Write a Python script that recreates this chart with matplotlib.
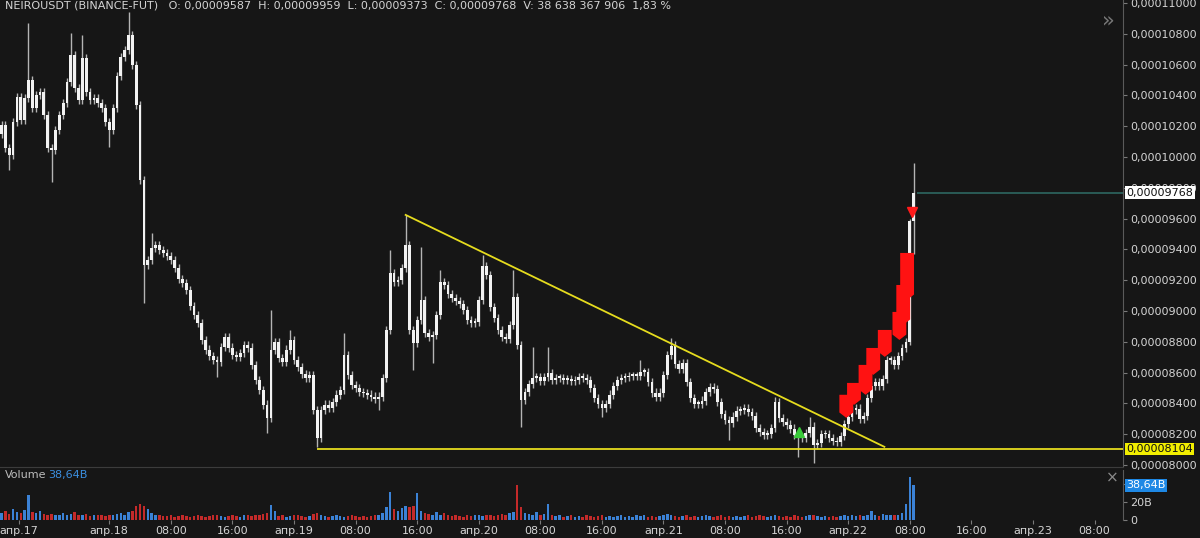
import matplotlib
matplotlib.use('Agg')
import matplotlib.pyplot as plt
from matplotlib.patches import Polygon

BG = '#161616'
TXT = '#d4d4d4'

# NEIROUSDT 30-min candles, prices in units of 1e-8, first candle apr.17 10:00
closes = [
    10208, 10059, 10013, 10227, 10389, 10240, 10383, 10500, 10318, 10403,
    10422, 10273, 10059, 10046, 10175, 10273, 10351, 10487, 10662, 10448,
    10370, 10643, 10422, 10370, 10383, 10351, 10318, 10227, 10175, 10318,
    10526, 10649, 10695, 10792, 10597, 10338, 9851, 9299, 9332, 9409,
    9429, 9397, 9377, 9358, 9332, 9280, 9208, 9182, 9137, 9033,
    8975, 8923, 8812, 8748, 8709, 8683, 8670, 8767, 8832, 8761,
    8715, 8702, 8728, 8780, 8761, 8650, 8553, 8488, 8391, 8306,
    8748, 8799, 8696, 8670, 8748, 8812, 8683, 8637, 8592, 8566,
    8585, 8358, 8176, 8358, 8391, 8371, 8410, 8456, 8488, 8715,
    8585, 8520, 8501, 8475, 8468, 8456, 8443, 8430, 8443, 8566,
    8877, 9247, 9189, 9202, 9280, 9429, 8877, 8793, 8942, 9072,
    8858, 8832, 8845, 8975, 9189, 9169, 9111, 9085, 9065, 9046,
    9007, 8942, 8923, 8929, 9072, 9293, 9234, 9027, 8955, 8877,
    8832, 8819, 8910, 9092, 8780, 8423, 8475, 8527, 8566, 8572,
    8546, 8572, 8598, 8553, 8566, 8566, 8553, 8559, 8546, 8553,
    8572, 8566, 8553, 8501, 8436, 8397, 8371, 8397, 8456, 8514,
    8553, 8566, 8572, 8579, 8579, 8579, 8605, 8605, 8540, 8469,
    8443, 8469, 8585, 8715, 8774, 8657, 8624, 8663, 8540, 8436,
    8397, 8397, 8417, 8475, 8507, 8494, 8410, 8332, 8293, 8274,
    8313, 8352, 8358, 8365, 8345, 8319, 8241, 8215, 8196, 8202,
    8241, 8410, 8306, 8280, 8261, 8235, 8196, 8183, 8176, 8209,
    8248, 8131, 8144, 8202, 8202, 8176, 8157, 8150, 8189, 8267,
    8313, 8358, 8365, 8300, 8319, 8436, 8514, 8540, 8514, 8559,
    8683, 8683, 8650, 8708, 8760, 8799, 9587, 9768,
]
first_open = 10150

# wicks that stick out clearly (index -> price)
spike_highs = {7: 10870, 18: 10805, 21: 10792, 33: 10941, 39: 9507, 70: 9007,
               75: 8877, 89: 8858, 101: 9397, 105: 9624, 109: 9416, 114: 9267,
               125: 9364, 133: 9267, 138: 8767, 142: 8767, 166: 8683, 174: 8825,
               201: 8443, 210: 8313, 236: 9600, 237: 9959}
spike_lows = {2: 9916, 13: 9838, 28: 10065, 37: 9052, 56: 8572, 69: 8209,
              82: 8118, 98: 8358, 107: 8618, 112: 8663, 135: 8248, 156: 8313,
              189: 8163, 207: 8053, 211: 8014, 236: 8780, 237: 9373}
wick = 28

# volume, billions
volumes = [
    8, 10, 7, 12, 9, 8, 11, 28, 9, 8,
    10, 7, 6, 7, 5, 6, 8, 5, 7, 9,
    6, 5, 7, 4, 5, 6, 5, 4, 6, 5,
    7, 8, 6, 9, 10, 16, 18, 15, 12, 8,
    6, 5, 4, 4, 5, 3, 4, 5, 4, 3,
    4, 5, 4, 3, 4, 5, 6, 4, 3, 4,
    5, 4, 3, 5, 6, 4, 5, 6, 7, 8,
    17, 10, 4, 5, 3, 4, 6, 5, 4, 3,
    4, 7, 8, 5, 4, 3, 4, 5, 4, 3,
    4, 5, 4, 3, 4, 3, 4, 5, 6, 8,
    14, 31, 12, 10, 13, 15, 14, 16, 30, 10,
    8, 7, 6, 9, 5, 8, 6, 4, 5, 4,
    3, 5, 4, 6, 5, 4, 6, 5, 4, 6,
    7, 5, 8, 9, 39, 14, 8, 7, 6, 9,
    5, 7, 18, 6, 4, 5, 3, 4, 5, 3,
    4, 3, 5, 4, 3, 4, 5, 3, 4, 3,
    4, 5, 3, 4, 3, 5, 4, 6, 3, 4,
    3, 4, 5, 7, 6, 4, 3, 4, 5, 3,
    4, 3, 4, 5, 4, 3, 4, 5, 3, 4,
    3, 4, 3, 4, 5, 3, 4, 5, 4, 3,
    4, 6, 4, 3, 4, 3, 5, 4, 3, 4,
    5, 6, 4, 3, 4, 3, 4, 3, 4, 5,
    4, 5, 4, 6, 4, 5, 10, 6, 4, 7,
    5, 6, 5, 6, 8, 18, 48, 38.64,
]

tick_pos = [4.5, 28, 44, 60, 76, 92, 108, 124, 140, 156, 172, 188, 204, 220, 236, 252, 268, 284]
tick_lbl = ['апр.17', 'апр.18', '08:00', '16:00', 'апр.19', '08:00', '16:00', 'апр.20',
            '08:00', '16:00', 'апр.21', '08:00', '16:00', 'апр.22', '08:00', '16:00',
            'апр.23', '08:00']

trend_start = (105, 9624)
trend_end = (229.4, 8118)
support_level = 8104
support_from = 82
last_price = 9768

# red signal blocks: (candle index, top, bottom)
red_marks = [(219.5, 8456, 8306), (221.5, 8533, 8390), (224.5, 8650, 8456),
             (226.5, 8760, 8585), (229.5, 8877, 8702), (233.3, 8994, 8812),
             (234.3, 9169, 8910), (235.3, 9377, 9072)]
sell_arrow = (236.6, 9640)
buy_arrow = (207.3, 8215)

assert len(closes) == len(volumes)

n = len(closes)
idx = list(range(n))
opens = [first_open] + closes[:-1]
highs = [spike_highs.get(i, max(opens[i], closes[i]) + wick) for i in idx]
lows = [spike_lows.get(i, min(opens[i], closes[i]) - wick) for i in idx]

fig = plt.figure(figsize=(12, 5.38), dpi=100, facecolor=BG)
ax = fig.add_axes([0, 71 / 538, 1123 / 1200, 467 / 538], facecolor=BG)
axv = fig.add_axes([0, 18 / 538, 1123 / 1200, 50 / 538], facecolor=BG, sharex=ax)

XMAX = 291.4
ax.set_xlim(-0.4, XMAX)
ax.set_ylim(7987, 11019.5)

# candles
ax.vlines(idx, lows, highs, color='#b4b4b4', lw=1.0, zorder=2)
bottoms = [min(o, c) for o, c in zip(opens, closes)]
heights = [max(abs(c - o), 9) for o, c in zip(opens, closes)]
ax.bar(idx, heights, bottom=bottoms, width=0.72, color='#f2f2f2', edgecolor='none', zorder=3)

# drawings
ax.plot([trend_start[0], trend_end[0]], [trend_start[1], trend_end[1]], color='#e6dc1e', lw=1.3, zorder=4)
ax.hlines(support_level, support_from, XMAX, color='#e6dc1e', lw=1.3, zorder=4)
ax.hlines(last_price, n - 0.2, XMAX, color='#2f6e68', lw=1.1, zorder=4)

for c, top, bot in red_marks:
    w = 1.8
    tip = 35
    poly = Polygon([(c - w, top), (c + w, top), (c + w, bot + tip), (c, bot), (c - w, bot + tip)],
                   closed=True, facecolor='#ff1212', edgecolor='none', zorder=5)
    ax.add_patch(poly)
ax.plot([sell_arrow[0]], [sell_arrow[1]], marker='v', color='#ff1a1a', ms=7, zorder=6)
ax.plot([buy_arrow[0]], [buy_arrow[1]], marker='^', color='#3acb3a', ms=7, zorder=6)

# price axis
yt = list(range(8000, 11001, 200))
ax.yaxis.tick_right()
ax.set_yticks(yt)
ax.set_yticklabels([f'0,000{v:05d}' for v in yt])
ax.tick_params(axis='y', colors='#7a7a7a', labelcolor=TXT, labelsize=8, length=3, pad=2)
ax.tick_params(axis='x', bottom=False, labelbottom=False)
for s in ['left', 'top']:
    ax.spines[s].set_visible(False)
ax.spines['right'].set_color('#5a5a5a')
ax.spines['bottom'].set_color('#3c3c3c')

lbl_kw = dict(xycoords=('axes fraction', 'data'), ha='left', va='center', fontsize=8,
              annotation_clip=False, zorder=10)
ax.annotate(f'0,000{last_price:05d}', xy=(1.003, last_price), color='#101010',
            bbox=dict(boxstyle='square,pad=0.12', fc='white', ec='none'), **lbl_kw)
ax.annotate(f'0,000{support_level:05d}', xy=(1.003, support_level), color='#101010',
            bbox=dict(boxstyle='square,pad=0.12', fc='#f2ee00', ec='none'), **lbl_kw)

# volume
vcol = ['#3b82d6' if c >= o else '#c42a2a' for o, c in zip(opens, closes)]
axv.bar(idx, volumes, width=0.65, color=vcol, edgecolor='none')
axv.set_ylim(0, 55.5)
axv.yaxis.tick_right()
axv.set_yticks([0, 20, 40])
axv.set_yticklabels(['0', '20B', '40B'])
axv.tick_params(axis='y', colors='#7a7a7a', labelcolor=TXT, labelsize=8, length=3, pad=2)
axv.set_xticks(tick_pos)
axv.set_xticklabels(tick_lbl)
axv.tick_params(axis='x', colors='#7a7a7a', labelcolor=TXT, labelsize=8, length=3, pad=1)
for s in ['left', 'top', 'bottom']:
    axv.spines[s].set_visible(False)
axv.spines['right'].set_color('#5a5a5a')
axv.annotate('38,64B', xy=(1.003, volumes[-1]), color='white',
             xycoords=('axes fraction', 'data'), ha='left', va='center', fontsize=8,
             annotation_clip=False, zorder=10,
             bbox=dict(boxstyle='square,pad=0.12', fc='#1e88e5', ec='none'))

# header and pane texts
fig.text(5 / 1200, 1 - 5 / 538,
         'NEIROUSDT (BINANCE-FUT)   O: 0,00009587  H: 0,00009959  L: 0,00009373  '
         'C: 0,00009768  V: 38 638 367 906  1,83 %',
         color=TXT, fontsize=8, va='center', ha='left')
fig.text(5 / 1200, 1 - 475 / 538, 'Volume', color='#bdbdbd', fontsize=8, va='center')
fig.text(48 / 1200, 1 - 475 / 538, '38,64B', color='#3b8fe0', fontsize=8, va='center')
fig.text(1112 / 1200, 1 - 478 / 538, '×', color='#8a8a8a', fontsize=11, va='center', ha='center')
fig.text(1108 / 1200, 1 - 20 / 538, '»', color='#777777', fontsize=15, va='center', ha='center')

fig.savefig('out.png', dpi=100, facecolor=BG)
